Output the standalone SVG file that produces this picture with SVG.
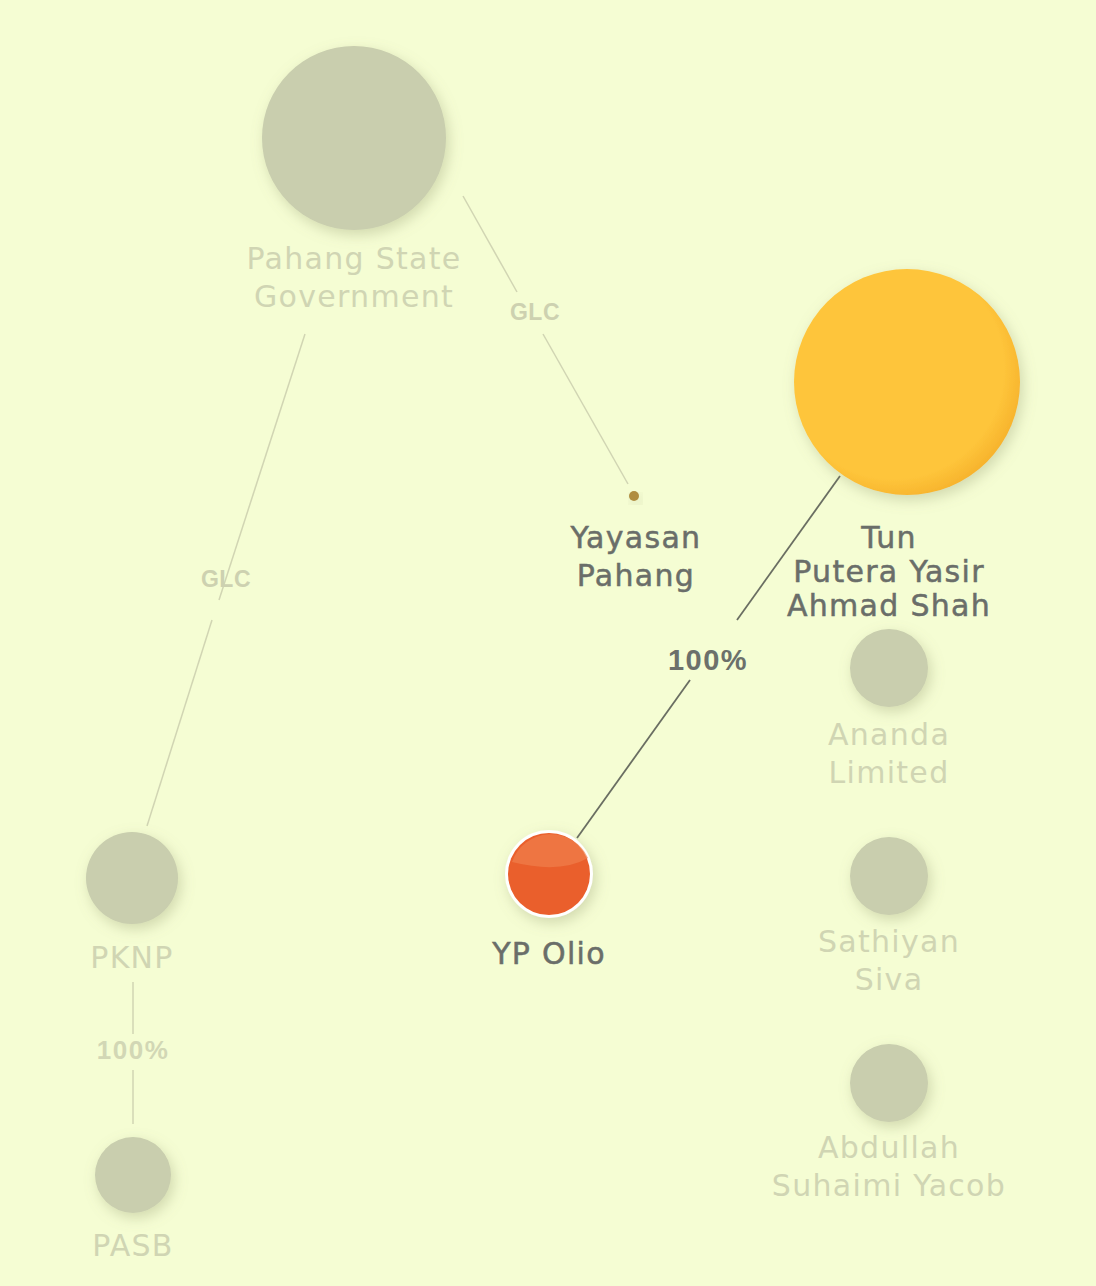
<svg xmlns="http://www.w3.org/2000/svg" width="1096" height="1286" viewBox="0 0 1096 1286">
<defs>
<filter id="sh" x="-40%" y="-40%" width="180%" height="180%">
<feGaussianBlur in="SourceAlpha" stdDeviation="7"/>
<feOffset dx="3" dy="5" result="b"/>
<feFlood flood-color="#8e956a" flood-opacity="0.35"/>
<feComposite in2="b" operator="in"/>
<feMerge><feMergeNode/><feMergeNode in="SourceGraphic"/></feMerge>
</filter>
<radialGradient id="tun" cx="0.44" cy="0.44" r="0.58">
<stop offset="0.84" stop-color="#fec53b"/>
<stop offset="1" stop-color="#f7b42d"/>
</radialGradient>
</defs>
<style>
.bg{fill:#f5fdd3}
.dim{fill:#c9ceae}
.lbl{font-family:"DejaVu Sans","Liberation Sans",sans-serif;text-anchor:middle;font-size:30px;letter-spacing:1.3px}
.lbl-dim{fill:#d0d5b3}
.lbl-dark{fill:#6a6e69;stroke:#6a6e69;stroke-width:0.5px}
.edge{stroke:#d1d5b3;stroke-width:1.5;fill:none}
.edge-dark{stroke:#6a6e62;stroke-width:1.8;fill:none}
.elbl{font-family:"Liberation Sans",Arial,sans-serif;font-weight:bold;text-anchor:middle}
</style>
<rect class="bg" width="1096" height="1286"/>
<g id="connectors">
<line class="edge" x1="463" y1="196" x2="517" y2="292"/>
<line class="edge" x1="543" y1="334" x2="628" y2="484"/>
<text class="elbl" x="535" y="320" font-size="23" letter-spacing="0.5" fill="#cdd1b0">GLC</text>
<line class="edge" x1="305" y1="334" x2="219" y2="600"/>
<line class="edge" x1="212" y1="620" x2="147" y2="826"/>
<text class="elbl" x="226" y="587" font-size="23" letter-spacing="0.5" fill="#cdd1b0">GLC</text>
<line class="edge" x1="133" y1="982" x2="133" y2="1034"/>
<line class="edge" x1="133" y1="1070" x2="133" y2="1124"/>
<text class="elbl" x="133" y="1059" font-size="26" letter-spacing="1.5" fill="#d2d7b5">100%</text>
<line class="edge-dark" x1="840" y1="476" x2="737" y2="620"/>
<line class="edge-dark" x1="690" y1="680" x2="577" y2="838"/>
<text class="elbl" x="708" y="670" font-size="29" letter-spacing="1.5" fill="#6c706b">100%</text>
</g>
<g id="node-pahang-state">
<circle class="dim" cx="354" cy="138" r="92" filter="url(#sh)"/>
<text class="lbl lbl-dim" x="354" y="269">Pahang State</text>
<text class="lbl lbl-dim" x="354" y="307">Government</text>
</g>
<g id="node-yayasan">
<circle cx="634" cy="496" r="5" fill="#b08e40" filter="url(#sh)"/>
<text class="lbl lbl-dark" x="636" y="548">Yayasan</text>
<text class="lbl lbl-dark" x="636" y="586">Pahang</text>
</g>
<g id="node-tun">
<circle cx="907" cy="382" r="113" fill="url(#tun)" filter="url(#sh)"/>
<text class="lbl lbl-dark" x="889" y="548">Tun</text>
<text class="lbl lbl-dark" x="889" y="582">Putera Yasir</text>
<text class="lbl lbl-dark" x="889" y="616">Ahmad Shah</text>
</g>
<g id="node-ypolio">
<circle cx="549" cy="874" r="44" fill="#ffffff" filter="url(#sh)"/>
<circle cx="549" cy="874" r="41" fill="#ea5f2c"/>
<path d="M512,862 A41,41 0 0 1 588,858 Q560,874 512,862 Z" fill="#ef7f4c" opacity="0.7"/>
<text class="lbl lbl-dark" x="549" y="964">YP Olio</text>
</g>
<g id="node-pknp">
<circle class="dim" cx="132" cy="878" r="46" filter="url(#sh)"/>
<text class="lbl lbl-dim" x="132" y="968">PKNP</text>
</g>
<g id="node-pasb">
<circle class="dim" cx="133" cy="1175" r="38" filter="url(#sh)"/>
<text class="lbl lbl-dim" x="133" y="1256">PASB</text>
</g>
<g id="node-ananda">
<circle class="dim" cx="889" cy="668" r="39" filter="url(#sh)"/>
<text class="lbl lbl-dim" x="889" y="745">Ananda</text>
<text class="lbl lbl-dim" x="889" y="783">Limited</text>
</g>
<g id="node-sathiyan">
<circle class="dim" cx="889" cy="876" r="39" filter="url(#sh)"/>
<text class="lbl lbl-dim" x="889" y="952">Sathiyan</text>
<text class="lbl lbl-dim" x="889" y="990">Siva</text>
</g>
<g id="node-abdullah">
<circle class="dim" cx="889" cy="1083" r="39" filter="url(#sh)"/>
<text class="lbl lbl-dim" x="889" y="1158">Abdullah</text>
<text class="lbl lbl-dim" x="889" y="1196">Suhaimi Yacob</text>
</g>
</svg>
